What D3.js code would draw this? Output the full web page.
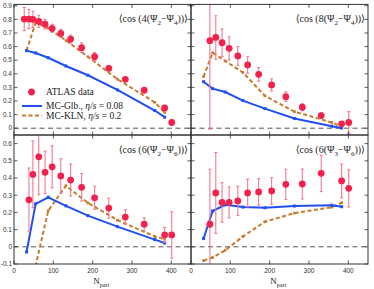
<!DOCTYPE html>
<html>
<head>
<meta charset="utf-8">
<script src="https://cdn.jsdelivr.net/npm/d3@7"></script>
<style>
  body { margin: 0; background: #fff; }
  svg { display: block; }
</style>
</head>
<body>
<svg id="chart" width="374" height="289"></svg>
<script>
// event-plane correlations vs N_part, ATLAS data vs two hydro models

const atlasNpart = [26, 38, 48, 63, 79, 97, 119, 144, 172, 205, 241, 283, 331, 383, 401];
const modelNpart = [32, 55, 87, 132, 188, 263, 358, 383];

// <cos 4(Psi2-Psi4)>
const c4Atlas = [0.802, 0.802, 0.80, 0.785, 0.765, 0.733, 0.697, 0.655, 0.592, 0.526, 0.44, 0.359, 0.279, 0.149, 0.042];
const c4Err   = [0.085, 0.07, 0.06, 0.045, 0.035, 0.03, 0.03, 0.03, 0.035, 0.03, 0.02, 0.015, 0.012, 0.01, 0.01];
const c4Glb   = [0.57, 0.553, 0.518, 0.457, 0.389, 0.281, 0.13, 0.081];
const c4Kln   = [0.57, 0.775, 0.735, 0.645, 0.525, 0.36, 0.19, 0.115];

// <cos 8(Psi2-Psi4)>  (first two centralities not shown)
const c8Atlas = [0.643, 0.667, 0.628, 0.587, 0.531, 0.465, 0.396, 0.318, 0.232, 0.154, 0.093, 0.032, 0.042];
const c8Err   = [0.65, 0.16, 0.10, 0.085, 0.07, 0.06, 0.05, 0.045, 0.035, 0.025, 0.02, 0.012, 0.08];
const c8Glb   = [0.342, 0.291, 0.266, 0.203, 0.144, 0.071, 0.015, 0.002];
const c8Kln   = [0.379, 0.555, 0.494, 0.41, 0.237, 0.122, 0.042, 0.012];

// <cos 6(Psi2-Psi6)>  (first centrality not shown)
const c26Atlas = [0.273, 0.421, 0.523, 0.433, 0.465, 0.412, 0.388, 0.346, 0.285, 0.225, 0.173, 0.131, 0.069, 0.069];
const c26Err   = [0.185, 0.194, 0.22, 0.123, 0.122, 0.10, 0.093, 0.08, 0.067, 0.058, 0.042, 0.038, 0.043, 0.135];
const c26Glb   = [-0.03, 0.25, 0.288, 0.238, 0.181, 0.117, 0.042, 0.022];
const c26Kln   = [-0.45, -0.11, 0.21, 0.355, 0.255, 0.155, 0.06, 0.045];

// <cos 6(Psi3-Psi6)>
const c36Atlas = [0.131, 0.313, 0.258, 0.258, 0.267, 0.313, 0.319, 0.325, 0.363, 0.365, 0.427, 0.383, 0.34];
const c36Err   = [0.32, 0.235, 0.115, 0.09, 0.085, 0.08, 0.077, 0.077, 0.088, 0.087, 0.106, 0.098, 0.108];
const c36Glb   = [0.048, 0.208, 0.244, 0.231, 0.227, 0.237, 0.242, 0.233];
const c36Kln   = [-0.081, -0.062, -0.02, 0.06, 0.146, 0.196, 0.23, 0.256];

const xTicks = [0, 100, 200, 300, 400];
const yTicksTop = [0, 0.1, 0.2, 0.3, 0.4, 0.5, 0.6, 0.7, 0.8, 0.9];
const yTicksBot = [-0.1, 0, 0.1, 0.2, 0.3, 0.4, 0.5, 0.6];

const red = '#f2224c', redErr = '#f27a92';
const blue = '#2050f0', orange = '#c97b2b';

const svg = d3.select('#chart');
const serif = '"Liberation Serif", "DejaVu Serif", serif';
const sans = '"Liberation Sans", Arial, sans-serif';

const xLeft = d3.scaleLinear().domain([0, 450]).range([14, 191]);
const xRight = d3.scaleLinear().domain([0, 450]).range([191, 368]);
const yTop = d3.scaleLinear().domain([-0.05, 0.91]).range([135, 4.4]);
const yBot = d3.scaleLinear().domain([-0.1, 0.65]).range([264, 135]);

// text with subscripts, parts = [[str, isSub], ...]
function mathText(g, x, y, parts, size, anchor) {
  const t = g.append('text').attr('x', x).attr('y', y)
    .attr('font-family', serif).attr('font-size', size)
    .attr('text-anchor', anchor || 'start').attr('fill', '#222');
  let wasSub = false;
  parts.forEach(([s, sub]) => {
    const sp = t.append('tspan').text(s);
    if (sub && !wasSub) sp.attr('dy', size * 0.3).attr('font-size', size * 0.7);
    else if (sub) sp.attr('font-size', size * 0.7);
    else if (wasSub) sp.attr('dy', -size * 0.3);
    wasSub = sub;
  });
  return t;
}

function drawPanel(id, x, y, atlasStart, atlas, err, glb, kln, yTicks, showY, showX, label) {
  const g = svg.append('g');
  const [x0, x1] = x.range();
  const [y0, y1] = [y.range()[1], y.range()[0]];

  g.append('clipPath').attr('id', 'clip' + id)
    .append('rect').attr('x', x0).attr('y', y0).attr('width', x1 - x0).attr('height', y1 - y0);

  // zero line
  g.append('line').attr('x1', x0).attr('x2', x1).attr('y1', y(0)).attr('y2', y(0))
    .attr('stroke', '#555').attr('stroke-width', 1).attr('stroke-dasharray', '5,3.5');

  const plot = g.append('g').attr('clip-path', `url(#clip${id})`);

  const line = d3.line().x((d, i) => x(modelNpart[i])).y(d => y(d));

  plot.append('path').datum(kln).attr('d', line).attr('fill', 'none')
    .attr('stroke', orange).attr('stroke-width', 2).attr('stroke-dasharray', '4,2.5');
  plot.selectAll('rect.kln').data(kln).join('rect').attr('class', 'kln')
    .attr('x', (d, i) => x(modelNpart[i]) - 1.3).attr('y', d => y(d) - 1.3)
    .attr('width', 2.6).attr('height', 2.6).attr('fill', orange);

  plot.append('path').datum(glb).attr('d', line).attr('fill', 'none')
    .attr('stroke', blue).attr('stroke-width', 2);
  plot.selectAll('rect.glb').data(glb).join('rect').attr('class', 'glb')
    .attr('x', (d, i) => x(modelNpart[i]) - 1.5).attr('y', d => y(d) - 1.5)
    .attr('width', 3).attr('height', 3).attr('fill', blue);

  const pts = atlas.map((v, i) => ({ n: atlasNpart[i + atlasStart], v, e: err[i] }));
  const eb = plot.selectAll('g.err').data(pts).join('g').attr('class', 'err')
    .attr('stroke', redErr).attr('stroke-width', 1.1);
  eb.append('line').attr('x1', d => x(d.n)).attr('x2', d => x(d.n))
    .attr('y1', d => y(d.v - d.e)).attr('y2', d => y(d.v + d.e));
  eb.append('line').attr('x1', d => x(d.n) - 1.5).attr('x2', d => x(d.n) + 1.5)
    .attr('y1', d => y(d.v + d.e)).attr('y2', d => y(d.v + d.e));
  eb.append('line').attr('x1', d => x(d.n) - 1.5).attr('x2', d => x(d.n) + 1.5)
    .attr('y1', d => y(d.v - d.e)).attr('y2', d => y(d.v - d.e));
  plot.selectAll('circle.atlas').data(pts).join('circle').attr('class', 'atlas')
    .attr('cx', d => x(d.n)).attr('cy', d => y(d.v)).attr('r', 3.4).attr('fill', red);

  // frame + inward ticks on all sides
  g.append('rect').attr('x', x0).attr('y', y0).attr('width', x1 - x0).attr('height', y1 - y0)
    .attr('fill', 'none').attr('stroke', '#333').attr('stroke-width', 1);
  const tk = g.append('g').attr('stroke', '#333').attr('stroke-width', 0.8);
  xTicks.forEach(t => {
    tk.append('line').attr('x1', x(t)).attr('x2', x(t)).attr('y1', y1).attr('y2', y1 - 3.5);
    tk.append('line').attr('x1', x(t)).attr('x2', x(t)).attr('y1', y0).attr('y2', y0 + 3.5);
  });
  yTicks.forEach(t => {
    tk.append('line').attr('x1', x0).attr('x2', x0 + 3.5).attr('y1', y(t)).attr('y2', y(t));
    tk.append('line').attr('x1', x1).attr('x2', x1 - 3.5).attr('y1', y(t)).attr('y2', y(t));
  });

  if (showY) {
    g.selectAll('text.yl').data(yTicks).join('text').attr('class', 'yl')
      .attr('x', x0 - 2).attr('y', d => y(d) + 2.3).attr('text-anchor', 'end')
      .attr('font-family', sans).attr('font-size', 6.5).attr('fill', '#333')
      .text(d => d3.format('.1~f')(d).replace('\u2212', '-'));
  }
  if (showX) {
    g.selectAll('text.xl').data(xTicks).join('text').attr('class', 'xl')
      .attr('x', d => x(d)).attr('y', y1 + 8.5).attr('text-anchor', 'middle')
      .attr('font-family', sans).attr('font-size', 6.5).attr('fill', '#333')
      .text(d => d);
    mathText(g, x(222), 284, [['N', false], ['part', true]], 9, 'middle');
  }

  mathText(g, x1 - 3, y0 + 18, label, 10, 'end');
  return g;
}

const lab = (n, a, b) => [['\u27E8cos (' + n + '(\u03A8', false], [a, true], ['\u2212\u03A8', false], [b, true], ['))\u27E9', false]];

drawPanel('tl', xLeft, yTop, 0, c4Atlas, c4Err, c4Glb, c4Kln, yTicksTop, true, false, lab(4, '2', '4'));
drawPanel('tr', xRight, yTop, 2, c8Atlas, c8Err, c8Glb, c8Kln, yTicksTop, false, false, lab(8, '2', '4'));
drawPanel('bl', xLeft, yBot, 1, c26Atlas, c26Err, c26Glb, c26Kln, yTicksBot, true, true, lab(6, '2', '6'));
drawPanel('br', xRight, yBot, 2, c36Atlas, c36Err, c36Glb, c36Kln, yTicksBot, false, true, lab(6, '3', '6'));

// legend in the top-left panel
const leg = svg.append('g');
leg.append('circle').attr('cx', 31.5).attr('cy', 92).attr('r', 3.4).attr('fill', red);
leg.append('text').attr('x', 46).attr('y', 95).attr('font-family', serif).attr('font-size', 9.5)
  .attr('fill', '#222').text('ATLAS data');
leg.append('line').attr('x1', 22).attr('x2', 42).attr('y1', 106).attr('y2', 106)
  .attr('stroke', blue).attr('stroke-width', 2);
leg.append('line').attr('x1', 22).attr('x2', 42).attr('y1', 115.5).attr('y2', 115.5)
  .attr('stroke', orange).attr('stroke-width', 2).attr('stroke-dasharray', '4,2.5');
const l1 = leg.append('text').attr('x', 46).attr('y', 109).attr('font-family', serif)
  .attr('font-size', 9.5).attr('fill', '#222');
l1.append('tspan').text('MC-Glb., ');
l1.append('tspan').attr('font-style', 'italic').text('\u03B7/s');
l1.append('tspan').text(' = 0.08');
const l2 = leg.append('text').attr('x', 46).attr('y', 118.5).attr('font-family', serif)
  .attr('font-size', 9.5).attr('fill', '#222');
l2.append('tspan').text('MC-KLN, ');
l2.append('tspan').attr('font-style', 'italic').text('\u03B7/s');
l2.append('tspan').text(' = 0.2');
</script>
</body>
</html>
